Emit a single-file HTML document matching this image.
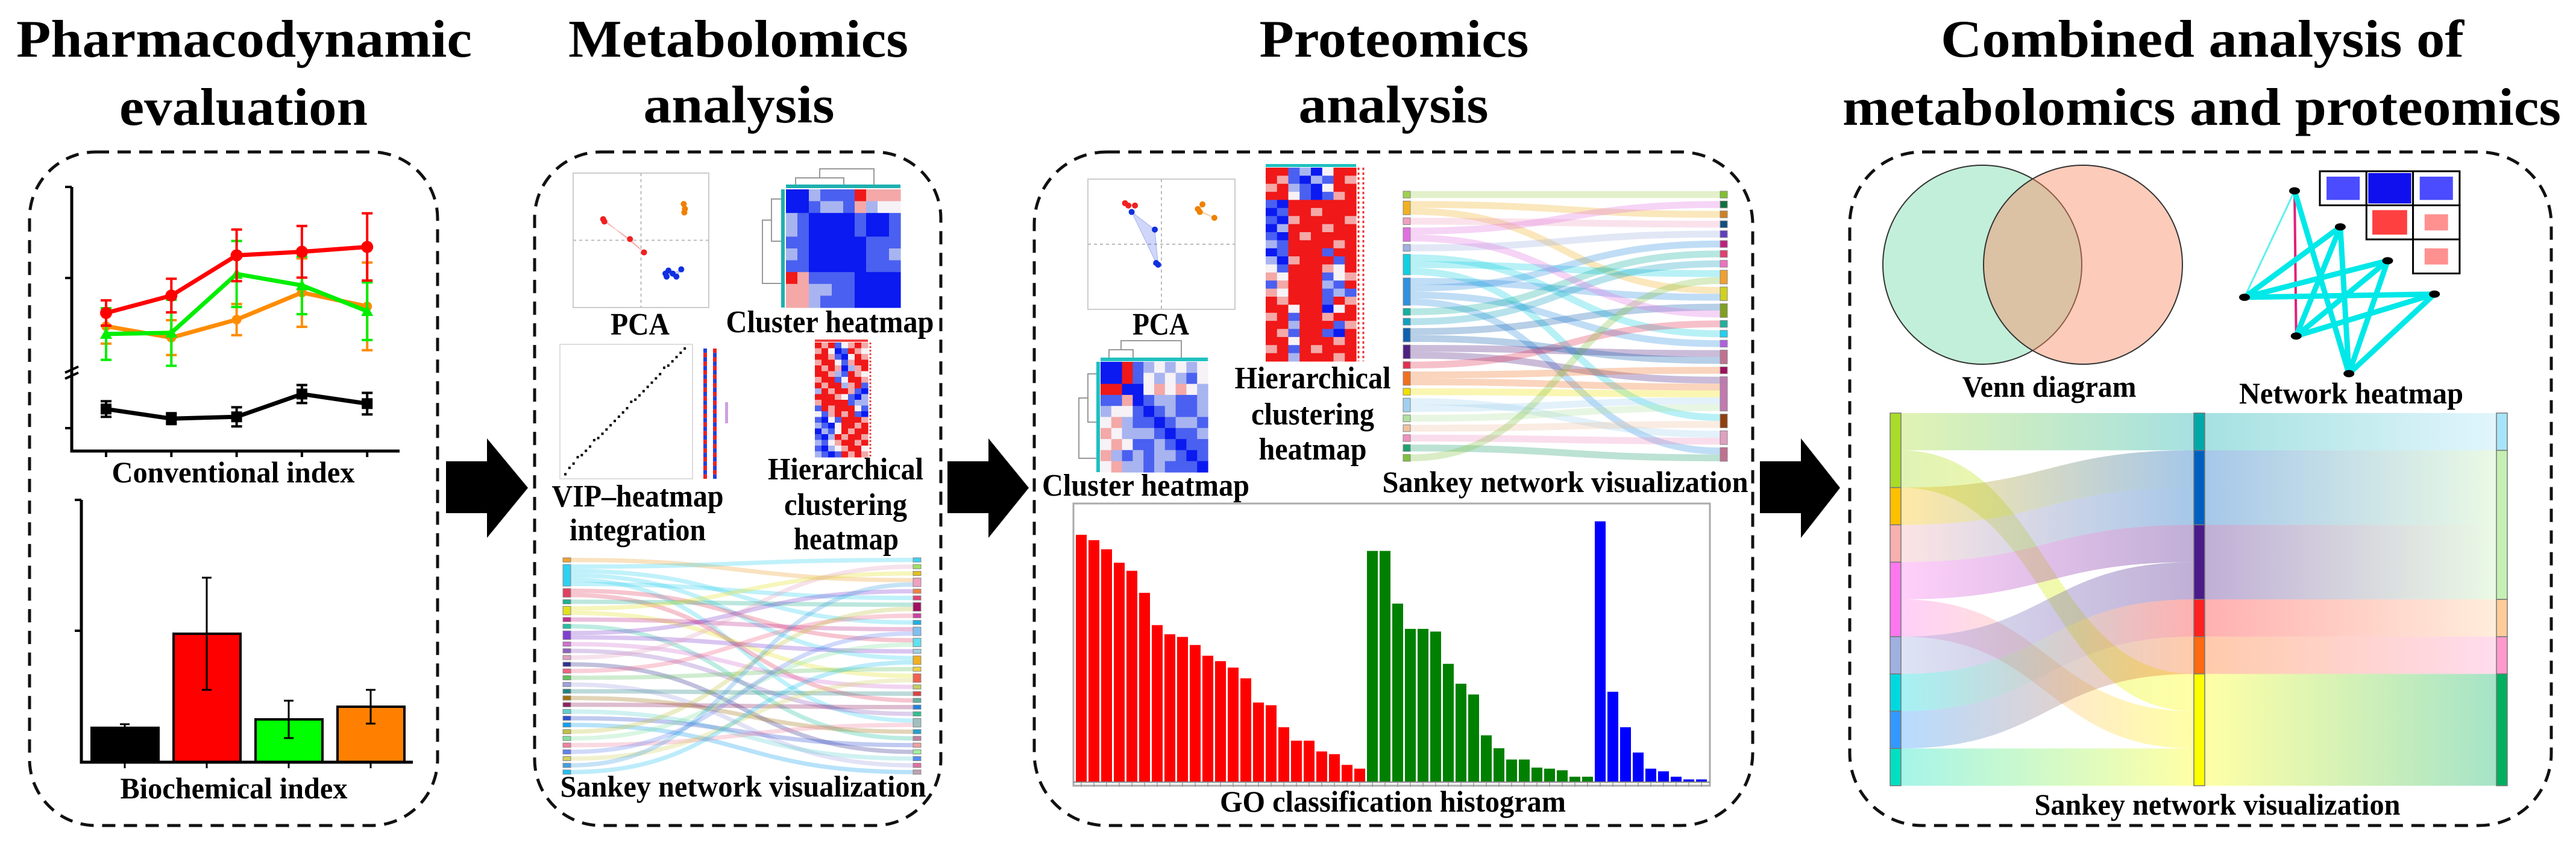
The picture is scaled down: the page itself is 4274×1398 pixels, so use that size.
<!DOCTYPE html>
<html><head><meta charset="utf-8"><title>Multi-omics workflow</title>
<style>
html,body{margin:0;padding:0;background:#fff;}
svg{display:block;}
text{font-family:"Liberation Serif",serif;font-weight:bold;fill:#000;}
</style></head>
<body>
<svg id="fig" xmlns="http://www.w3.org/2000/svg" width="4274" height="1398" viewBox="0 0 4274 1398">
<rect x="0" y="0" width="4274" height="1398" fill="#fff"/>
<!-- titles -->
<g>
<text x="405" y="94" font-size="88" text-anchor="middle" textLength="756" lengthAdjust="spacingAndGlyphs">Pharmacodynamic</text>
<text x="404" y="207" font-size="88" text-anchor="middle" textLength="412" lengthAdjust="spacingAndGlyphs">evaluation</text>
<text x="1225" y="94" font-size="88" text-anchor="middle" textLength="564" lengthAdjust="spacingAndGlyphs">Metabolomics</text>
<text x="1226" y="203" font-size="88" text-anchor="middle" textLength="317" lengthAdjust="spacingAndGlyphs">analysis</text>
<text x="2313" y="94" font-size="88" text-anchor="middle" textLength="447" lengthAdjust="spacingAndGlyphs">Proteomics</text>
<text x="2312" y="203" font-size="88" text-anchor="middle" textLength="315" lengthAdjust="spacingAndGlyphs">analysis</text>
<text x="3654" y="94" font-size="88" text-anchor="middle" textLength="868" lengthAdjust="spacingAndGlyphs">Combined analysis of</text>
<text x="3653" y="207" font-size="88" text-anchor="middle" textLength="1192" lengthAdjust="spacingAndGlyphs">metabolomics and proteomics</text>
</g>
<!-- panels -->
<g fill="none" stroke="#111" stroke-width="5" stroke-dasharray="22 14">
<rect x="49" y="252" width="677" height="1117" rx="110"/>
<rect x="887" y="252" width="674" height="1117" rx="110"/>
<rect x="1716" y="252" width="1192" height="1117" rx="120"/>
<rect x="3069" y="252" width="1164" height="1117" rx="120"/>
</g>
<!-- arrows -->
<g fill="#000">
<polygon points="740,765 808,765 808,727 876,809 808,892 808,851 740,851"/>
<polygon points="1572,765 1640,765 1640,727 1707,809 1640,892 1640,851 1572,851"/>
<polygon points="2920,765 2988,765 2988,727 3053,809 2988,892 2988,851 2920,851"/>
</g>
<!-- labels -->
<g>
<text x="387" y="800" font-size="50" text-anchor="middle" textLength="403" lengthAdjust="spacingAndGlyphs">Conventional index</text>
<text x="388" y="1324" font-size="50" text-anchor="middle" textLength="377" lengthAdjust="spacingAndGlyphs">Biochemical index</text>
<text x="1062" y="555" font-size="52" text-anchor="middle" textLength="98" lengthAdjust="spacingAndGlyphs">PCA</text>
<text x="1377" y="551" font-size="52" text-anchor="middle" textLength="345" lengthAdjust="spacingAndGlyphs">Cluster heatmap</text>
<text x="1058" y="840" font-size="52" text-anchor="middle" textLength="285" lengthAdjust="spacingAndGlyphs">VIP–heatmap</text>
<text x="1058" y="896" font-size="52" text-anchor="middle" textLength="226" lengthAdjust="spacingAndGlyphs">integration</text>
<text x="1403" y="795" font-size="52" text-anchor="middle" textLength="258" lengthAdjust="spacingAndGlyphs">Hierarchical</text>
<text x="1403" y="854" font-size="52" text-anchor="middle" textLength="204" lengthAdjust="spacingAndGlyphs">clustering</text>
<text x="1404" y="911" font-size="52" text-anchor="middle" textLength="174" lengthAdjust="spacingAndGlyphs">heatmap</text>
<text x="1233" y="1321" font-size="50" text-anchor="middle" textLength="607" lengthAdjust="spacingAndGlyphs">Sankey network visualization</text>
<text x="1926" y="555" font-size="52" text-anchor="middle" textLength="94" lengthAdjust="spacingAndGlyphs">PCA</text>
<text x="2178" y="644" font-size="52" text-anchor="middle" textLength="259" lengthAdjust="spacingAndGlyphs">Hierarchical</text>
<text x="2178" y="704" font-size="52" text-anchor="middle" textLength="204" lengthAdjust="spacingAndGlyphs">clustering</text>
<text x="2178" y="762" font-size="52" text-anchor="middle" textLength="179" lengthAdjust="spacingAndGlyphs">heatmap</text>
<text x="1901" y="822" font-size="52" text-anchor="middle" textLength="344" lengthAdjust="spacingAndGlyphs">Cluster heatmap</text>
<text x="2597" y="816" font-size="50" text-anchor="middle" textLength="607" lengthAdjust="spacingAndGlyphs">Sankey network visualization</text>
<text x="2311" y="1346" font-size="50" text-anchor="middle" textLength="574" lengthAdjust="spacingAndGlyphs">GO classification histogram</text>
<text x="3400" y="658" font-size="50" text-anchor="middle" textLength="289" lengthAdjust="spacingAndGlyphs">Venn diagram</text>
<text x="3901" y="669" font-size="50" text-anchor="middle" textLength="372" lengthAdjust="spacingAndGlyphs">Network heatmap</text>
<text x="3679" y="1351" font-size="50" text-anchor="middle" textLength="607" lengthAdjust="spacingAndGlyphs">Sankey network visualization</text>
</g>
<g id="charts"></g>
</svg>
<script>
// ===== data arrays =====
// Conventional index line chart (5 time points)
const lineCategories = [1, 2, 3, 4, 5];
const redLine = [230, 259, 326, 332, 340];
const redErr = [21, 28, 43, 43, 56];
const greenLine = [195, 197, 295, 276, 233];
const greenErr = [43, 55, 55, 48, 48];
const orangeLine = [208, 189, 219, 264, 241];
const orangeErr = [29, 29, 26, 57, 73];
const blackLine = [70, 54, 57, 95, 79];
const blackErr = [13, 9, 16, 15, 18];
// Biochemical index bar chart
const barGroups = ['control', 'model', 'treat-a', 'treat-b'];
const barValues = [57, 213, 71, 92];
const barErrors = [6, 93, 31, 28];
const barColors = ['#000000', '#ff0000', '#00ff00', '#ff8000'];
// GO classification histogram
const goRed = [460, 450, 433, 408, 393, 352, 292, 275, 270, 255, 235, 225, 213, 193, 148, 143, 102, 77, 77, 57, 52, 32, 25];
const goGreen = [430, 430, 332, 285, 285, 280, 220, 183, 163, 87, 63, 42, 42, 27, 25, 22, 10, 10];
const goBlue = [485, 168, 102, 55, 25, 20, 10, 5, 5];
// PCA (metabolomics) points
const pcaMetabX = [-0.62, -0.60, -0.18, 0.05, 0.70, 0.72, 0.71, 0.40, 0.45, 0.52, 0.58, 0.66, 0.42];
const pcaMetabY = [0.35, 0.31, 0.02, -0.20, 0.60, 0.52, 0.46, -0.55, -0.50, -0.55, -0.60, -0.48, -0.60];
const pcaMetabG = [0, 0, 0, 0, 1, 1, 1, 2, 2, 2, 2, 2, 2];
// PCA (proteomics) points
const pcaProtX = [-0.55, -0.50, -0.40, -0.45, -0.10, -0.05, -0.08, 0.55, 0.62, 0.58, 0.80];
const pcaProtY = [0.70, 0.66, 0.66, 0.55, 0.25, -0.35, -0.32, 0.60, 0.68, 0.55, 0.45];
const pcaProtG = [0, 0, 0, 2, 2, 2, 2, 1, 1, 1, 1];
// VIP ranks
const vipValues = [0.5, 2, 3, 4.5, 5, 6, 7, 8.5, 9, 10, 11, 12, 13, 14, 15, 16, 17.5, 18, 19, 20, 21, 22, 23, 24, 25.5, 26, 27, 28, 29, 30];
// heatmap matrices
const clusterMetab = ["BBlbbbRppp","BBbllbplww","lbBBBBbBBb","lbBBBBbBBb","bbBBBBBbbb","lbBBBBBbbl","bbBBBBBbbb","RpbbbbBBBB","ppllbbBBBB","pplbbbBBBB"];
const clusterProt = ["BBRblwlwlw","BBRbwlwlbw","RRBBwpwpwl","bbpBbllbbl","lwwbBblbbl","wplbbBbllb","pwlllbBbbl","wpwbblbBbb","plblbllbBb","wpllblbbbB"];
const hierMetab = ["RpRbwpRp","pRwBbRpw","RRpbBwRp","pRRwbpRR","RpRpBlpR","RRplbRpw","pRRbwRRp","RpRRlpRb","lRpRRpbB","RRRpwbBl","pRRRRbll","bRpRRRwb","wbpRpRbB","bBwbRRRp","lbBwRRpR","BlbwRpRR","bBlRpRRp","lbwpRRpR","bBlwpRRw","lbBbRpRp"];
const hierProt = ["RRblBwRR","RpbBlbRp","pRlbBwRR","RRwbBbpR","bBRRRRRR","BbRRpRRR","bBpRRRRp","BlRRRpRR","bBRpRRRR","lbRRRRpR","BbRRRbRR","lBpRRRbR","wbRRRpwR","pwRRRbwp","bpRRRlbR","pwRRRblb","RpRRRbRp","RRwRRBwR","pRbRRpRR","RRlRRRbp","RpbRRbBR","RRwRRRpR","pRbRpRRR","RRlRRRpR"];
// metabolomics sankey
const metabLeftColors = ['#f0a030','#30d0f0','#e04060','#20b090','#e0e020','#c03090','#20c0a0','#8040d0','#d070d0','#9060c0','#e0a0c0','#303090','#f06080','#60c060','#a0a0e0','#208080','#a07010','#902060','#60d0d0','#3050d0','#10a0f0','#c0c040','#80e0a0','#f080a0','#6080f0','#d0d060','#40a0e0','#20c0f0'];
const metabRightColors = ['#40d0f0','#a0e060','#e0c020','#f0a0c0','#f08040','#e04070','#a01060','#d040a0','#20b0e0','#80c0f0','#60e0f0','#a0d0e0','#f0b020','#f0d040','#f06050','#c0d060','#e04040','#60b0a0','#2080e0','#30c090','#a0c0c0','#20a0d0','#c080a0','#f0a0a0','#a0f0a0','#5090f0','#e070a0','#c0a0b0'];
const metabLinks = [[0,3],[1,0],[1,8],[1,12],[1,20],[1,5],[2,10],[2,17],[3,6],[4,2],[4,14],[5,9],[6,22],[7,4],[7,11],[8,15],[9,19],[10,1],[11,24],[12,7],[13,13],[14,26],[15,16],[16,21],[17,18],[18,25],[19,23],[20,27],[21,6],[22,10],[23,20],[24,9],[25,14],[26,3],[27,12]];
// proteomics sankey
const protLeftColors = ['#a0d050','#f0b020','#f0a0c0','#e070e0','#a0b0e0','#10d0e0','#3090e0','#10b0a0','#10a0c0','#1060b0','#502080','#e03050','#f07020','#f0e000','#a0d0f0','#b0e0a0','#f0c0a0','#f090c0','#20a070','#80c040'];
const protRightColors = ['#80c030','#107040','#d08020','#105080','#6040c0','#c02080','#e04070','#f070c0','#f0a030','#d0d020','#80a020','#20b0a0','#20d0f0','#b060e0','#c07090','#a01060','#c07ab0','#904010','#e0a0c0','#c07090'];
const protLinks = [[0,0],[1,2],[1,9],[2,3],[3,1],[4,4],[5,12],[5,8],[5,17],[6,9],[6,5],[6,13],[6,19],[7,6],[8,7],[9,10],[10,14],[10,16],[11,11],[12,15],[12,16],[13,16],[14,18],[14,16],[15,16],[16,17],[17,18],[18,19],[19,8],[3,10],[9,14]];
// combined sankey
const combLeftColors = ['#a8dc28','#ffc000','#f8b0b0','#ff77ee','#a0b0e0','#00d8e0','#3399ff','#00e0c0'];
const combMidColors = ['#00a8a8','#0060c0','#4b1a8a','#ff2020','#ff6a10','#ffff00'];
const combRightColors = ['#a8e4f8','#c4f0b4','#ffcc99','#ff99cc','#00b060'];
const combLinksA = [[0,0,1],[0,5,1],[1,1,1],[2,1,1],[3,2,1],[3,5,1],[4,2,1],[5,3,1],[6,4,1],[7,5,1]];
const combLinksB = [[0,0,1],[1,1,2],[2,1,2],[3,2,1],[4,3,1],[5,4,3]];
// network heatmap
const netNodesX = [1045, 1130, 1218, 952, 1305, 1048, 1146];
const netNodesY = [355, 422, 485, 553, 547, 625, 695];
const netEdges = [[0,3,'#60f0f0',3],[0,5,'#e0207a',4],[0,6,'#00e8e8',9],[3,1,'#00e8e8',9],[3,2,'#00e8e8',9],[3,4,'#00e8e8',9],[1,5,'#00e8e8',9],[1,6,'#00e8e8',9],[2,5,'#00e8e8',9],[2,6,'#00e8e8',9],[4,5,'#00e8e8',9],[4,6,'#00e8e8',9]];
const netCellRow = [0, 0, 0, 1, 1, 2];
const netCellCol = [0, 1, 2, 1, 2, 2];
const netCellVal = [-0.7, -1.0, -0.7, 0.75, 0.4, 0.4];

// ===== helpers =====
const NS = 'http://www.w3.org/2000/svg';
const root = document.getElementById('charts');
function mk(tag, attrs, parent) {
  const e = document.createElementNS(NS, tag);
  for (const k in attrs) e.setAttribute(k, attrs[k]);
  (parent || root).appendChild(e);
  return e;
}
function grp(name) {
  const g = mk('g', {});
  
  
  return g;
}
const heatColors = {B:'#0a1af0', b:'#4a60f0', l:'#a8b4f0', w:'#f6f2f6', p:'#f4a8a8', R:'#f01818'};
function heatmap(g, rows, x0, y0, w, h, name) {
  const nr = rows.length, nc = rows[0].length;
  const cw = w / nc, ch = h / nr;
  for (let r = 0; r < nr; r++) for (let c = 0; c < nc; c++) {
    const cell = mk('rect', {x: x0 + c*cw, y: y0 + r*ch, width: cw + 0.6, height: ch + 0.6, fill: heatColors[rows[r][c]]}, g);
    
    
  }
}

// ===== line chart =====
(function(){
  const g = grp('conventional-index-chart');
  const xLine = i => 176 + (i) * 108.3;
  const yLine = v => 748 - v * 438 / 440;
  const ax = mk('path', {d:'M119 310 V748 H663', stroke:'#000', 'stroke-width':5, fill:'none'}, g);
  
  
  [310, 461, 710].forEach(y => {
    const t = mk('line', {x1:108, x2:119, y1:y, y2:y, stroke:'#000', 'stroke-width':4}, g);
    
    
  });
  lineCategories.forEach((c, i) => {
    const t = mk('line', {x1:xLine(i), x2:xLine(i), y1:748, y2:758, stroke:'#000', 'stroke-width':4}, g);
    
    
  });
  const br = mk('path', {d:'M108 618 L130 608 M108 628 L130 618', stroke:'#000', 'stroke-width':4, fill:'none'}, g);
  
  
  const series = [[blackLine, blackErr, '#000', 'black'], [orangeLine, orangeErr, '#ff8c00', 'orange'], [greenLine, greenErr, '#00ee00', 'green'], [redLine, redErr, '#ff0000', 'red']];
  series.forEach(([vals, errs, col, nm]) => {
    vals.forEach((v, i) => {
      const e = mk('path', {d:`M${xLine(i)} ${yLine(v+errs[i])} V${yLine(v-errs[i])} M${xLine(i)-9} ${yLine(v+errs[i])} h18 M${xLine(i)-9} ${yLine(v-errs[i])} h18`, stroke:col, 'stroke-width':4, fill:'none'}, g);
      
      
    });
    const pl = mk('polyline', {points: vals.map((v,i)=>xLine(i)+','+yLine(v)).join(' '), stroke:col, 'stroke-width':7, fill:'none'}, g);
    
    
    vals.forEach((v, i) => {
      let m;
      if (nm === 'red') m = mk('circle', {cx:xLine(i), cy:yLine(v), r:10, fill:col}, g);
      else if (nm === 'black') m = mk('rect', {x:xLine(i)-9, y:yLine(v)-9, width:18, height:18, fill:col}, g);
      else if (nm === 'green') m = mk('polygon', {points:`${xLine(i)},${yLine(v)-10} ${xLine(i)+10},${yLine(v)+8} ${xLine(i)-10},${yLine(v)+8}`, fill:col}, g);
      else m = mk('circle', {cx:xLine(i), cy:yLine(v), r:8, fill:col}, g);
      
      
    });
  });
})();

// ===== bar chart =====
(function(){
  const g = grp('biochemical-index-chart');
  const xBar = i => 152 + i * 136;
  const yBar = v => 1264 - v * 435 / 435;
  barGroups.forEach((b, i) => {
    const r = mk('rect', {x:xBar(i), y:yBar(barValues[i]), width:111, height:1264 - yBar(barValues[i]), fill:barColors[i], stroke:'#000', 'stroke-width':4}, g);
    
    
    const cx = xBar(i) + 55;
    const e = mk('path', {d:`M${cx} ${yBar(barValues[i]+barErrors[i])} V${yBar(barValues[i]-barErrors[i])} M${cx-8} ${yBar(barValues[i]+barErrors[i])} h16 M${cx-8} ${yBar(barValues[i]-barErrors[i])} h16`, stroke:'#000', 'stroke-width':3, fill:'none'}, g);
    
    
    const t = mk('line', {x1:cx, x2:cx, y1:1264, y2:1274, stroke:'#000', 'stroke-width':3}, g);
    
    
  });
  const ax = mk('path', {d:'M135 829 V1264 H685', stroke:'#000', 'stroke-width':5, fill:'none'}, g);
  
  
  [829, 1046].forEach(y => {
    const t = mk('line', {x1:124, x2:135, y1:y, y2:y, stroke:'#000', 'stroke-width':4}, g);
    
    
  });
})();

// ===== PCA plots =====
function pca(name, xs, ys, gs, x0, y0, w, h, colors) {
  const g = grp(name);
  const bx = mk('rect', {x:x0, y:y0, width:w, height:h, fill:'#fff', stroke:'#ccc', 'stroke-width':2}, g);
  
  
  const sx = v => x0 + w/2 + v * w/2 * 0.9;
  const sy = v => y0 + h/2 - v * h/2 * 0.9;
  const gr = mk('path', {d:`M${x0+w/2} ${y0} V${y0+h} M${x0} ${y0+h/2} H${x0+w}`, stroke:'#bbb', 'stroke-width':2, 'stroke-dasharray':'5 5', fill:'none'}, g);
  
  
  [0,1,2].forEach(k => {
    const pts = xs.map((x,i)=>[x,ys[i],gs[i]]).filter(p=>p[2]===k);
    if (pts.length > 2) {
      const hull = mk('polygon', {points: pts.map(p=>sx(p[0])+','+sy(p[1])).join(' '), fill:colors[k], 'fill-opacity':0.2, stroke:colors[k], 'stroke-opacity':0.3}, g);
      
      
    }
  });
  xs.forEach((x, i) => {
    const c = mk('circle', {cx:sx(x), cy:sy(ys[i]), r:5, fill:colors[gs[i]]}, g);
    
    
  });
}
pca('pca-metabolomics', pcaMetabX, pcaMetabY, pcaMetabG, 951, 287, 225, 223, ['#f02020','#f08000','#1030e0']);
pca('pca-proteomics', pcaProtX, pcaProtY, pcaProtG, 1805, 297, 244, 216, ['#f02020','#f08000','#1030e0']);

// ===== heatmaps =====
(function(){
  const g = grp('cluster-heatmap-metabolomics');
  heatmap(g, clusterMetab, 1304, 314, 190, 196, 'cluster-metab');
  const d = mk('path', {d:'M1320 312 V295 H1400 V312 M1360 295 V280 H1450 V312 M1300 330 H1280 V400 H1300 M1280 365 H1265 V470 H1300', stroke:'#999', 'stroke-width':2, fill:'none'}, g);
  
  
  const s = mk('rect', {x:1296, y:314, width:6, height:196, fill:'#20b0b0'}, g);
  
  
  const s2 = mk('rect', {x:1304, y:306, width:190, height:6, fill:'#20b0b0'}, g);
  
  
})();
(function(){
  const g = grp('cluster-heatmap-proteomics');
  heatmap(g, clusterProt, 1826, 600, 178, 183, 'cluster-prot');
  const d = mk('path', {d:'M1840 598 V580 H1880 V598 M1860 580 V565 H1960 V598 M1822 620 H1805 V700 H1822 M1805 660 H1790 V760 H1822', stroke:'#999', 'stroke-width':2, fill:'none'}, g);
  
  
  const s = mk('rect', {x:1819, y:600, width:6, height:183, fill:'#20c0c0'}, g);
  
  
  const s2 = mk('rect', {x:1826, y:593, width:178, height:6, fill:'#20c0c0'}, g);
  
  
})();
(function(){
  const g = grp('hierarchical-heatmap-metabolomics');
  heatmap(g, hierMetab, 1352, 568, 88, 190, 'hier-metab');
  const s = mk('rect', {x:1352, y:563, width:88, height:4, fill:'#f04040'}, g);
  
  
  const l = mk('line', {x1:1444, x2:1444, y1:568, y2:758, stroke:'#f04040', 'stroke-width':3, 'stroke-dasharray':'3 3'}, g);
  
  
})();
(function(){
  const g = grp('hierarchical-heatmap-proteomics');
  heatmap(g, hierProt, 2100, 278, 150, 321, 'hier-prot');
  const s = mk('rect', {x:2100, y:272, width:150, height:5, fill:'#20c0c0'}, g);
  
  
  const l = mk('path', {d:'M2254 278 V599 M2262 278 V599', stroke:'#f03030', 'stroke-width':3, 'stroke-dasharray':'4 4', fill:'none'}, g);
  
  
})();

// ===== VIP plot =====
(function(){
  const g = grp('vip-heatmap-integration');
  const b = mk('rect', {x:929, y:571, width:220, height:223, fill:'#fff', stroke:'#ddd', 'stroke-width':2}, g);
  
  
  const sx = i => 938 + i * 205 / vipValues.length;
  const sy = v => 790 - v * 212 / 30;
  vipValues.forEach((v, i) => {
    const p = mk('rect', {x:sx(i)-2, y:sy(v)-2, width:4, height:4, fill:'#000'}, g);
    
    
  });
  for (let k = 0; k < 30; k++) {
    const c1 = mk('rect', {x:1167, y:578 + k*7.2, width:6, height:7.2, fill: k%2 ? '#f02020' : '#2040e0'}, g);
    
    
    const c2 = mk('rect', {x:1183, y:578 + k*7.2, width:6, height:7.2, fill: k%2 ? '#2040e0' : '#f02020'}, g);
    
    
  }
  const lg = mk('rect', {x:1203, y:667, width:5, height:35, fill:'#d0a0e0'}, g);
  
  
})();

// ===== small sankeys =====
function sankey(name, leftColors, rightColors, links, x0, x1, y0, y1, nw, gap) {
  const g = grp(name);
  const lc = leftColors.map(()=>0), rc = rightColors.map(()=>0);
  links.forEach(([s,t]) => { lc[s]++; rc[t]++; });
  const unitL = (y1 - y0 - gap*(leftColors.length-1)) / links.length;
  const unitR = (y1 - y0 - gap*(rightColors.length-1)) / links.length;
  const ly = [], ry = [];
  let y = y0; lc.forEach((c,i)=>{ ly.push(y); y += c*unitL + gap; });
  y = y0; rc.forEach((c,i)=>{ ry.push(y); y += c*unitR + gap; });
  const lo = lc.map(()=>0), ro = rc.map(()=>0);
  links.forEach(([s,t]) => {
    const ya = ly[s] + lo[s]*unitL + unitL/2; lo[s]++;
    const yb = ry[t] + ro[t]*unitR + unitR/2; ro[t]++;
    const xa = x0 + nw, xb = x1 - nw, xm = (xa + xb)/2;
    const p = mk('path', {d:`M${xa} ${ya} C${xm} ${ya} ${xm} ${yb} ${xb} ${yb}`, stroke:leftColors[s], 'stroke-opacity':0.3, 'stroke-width':Math.min(unitL,unitR), fill:'none'}, g);
    
    
  });
  lc.forEach((c,i) => {
    const r = mk('rect', {x:x0, y:ly[i], width:nw, height:c*unitL, fill:leftColors[i], stroke:'#888', 'stroke-width':1}, g);
    
    
  });
  rc.forEach((c,i) => {
    const r = mk('rect', {x:x1-nw, y:ry[i], width:nw, height:c*unitR, fill:rightColors[i], stroke:'#888', 'stroke-width':1}, g);
    
    
  });
}
sankey('sankey-metabolomics', metabLeftColors, metabRightColors, metabLinks, 934, 1528, 925, 1284, 13, 4);
sankey('sankey-proteomics', protLeftColors, protRightColors, protLinks, 2328, 2866, 317, 765, 12, 5);

// ===== GO histogram =====
(function(){
  const g = grp('go-histogram');
  const fr = mk('rect', {x:1781, y:835, width:1056, height:468, fill:'#fff', stroke:'#aaa', 'stroke-width':3}, g);
  
  
  const xGo = i => 1785 + i * 21;
  const yGo = v => 1297 - v * 0.8916;
  const all = [[goRed,'#ff0000','red'],[goGreen,'#008000','green'],[goBlue,'#0000ff','blue']];
  let idx = 0;
  all.forEach(([vals, col, nm]) => {
    vals.forEach(v => {
      const b = mk('rect', {x:xGo(idx), y:yGo(v), width:18, height:1297 - yGo(v), fill:col}, g);
      
      
      const t = mk('line', {x1:xGo(idx)+9, x2:xGo(idx)+9, y1:1297, y2:1305, stroke:'#999', 'stroke-width':1.5}, g);
      
      
      idx++;
    });
  });
  const ax = mk('line', {x1:1781, x2:2837, y1:1297, y2:1297, stroke:'#888', 'stroke-width':2}, g);
  
  
})();

// ===== Venn =====
(function(){
  const g = grp('venn-diagram');
  const a = mk('circle', {cx:3289, cy:439, r:165, fill:'rgb(120,220,170)', 'fill-opacity':0.45, stroke:'#333', 'stroke-width':2}, g);
  
  
  const b = mk('circle', {cx:3456, cy:439, r:165, fill:'rgb(250,140,100)', 'fill-opacity':0.45, stroke:'#333', 'stroke-width':2}, g);
  
  
})();

// ===== Network heatmap =====
(function(){
  const g = grp('network-heatmap');
  const cx = c => 3849 + c * 77.3;
  const cy = r => 284 + r * 56.5;
  netCellVal.forEach((v, i) => {
    const o = mk('rect', {x:cx(netCellCol[i]), y:cy(netCellRow[i]), width:77.3, height:56.5, fill:'#fff', stroke:'#000', 'stroke-width':3}, g);
    
    
    const s = Math.abs(v);
    const w = 77.3 * (0.3 + 0.7*s) - 6, h = 56.5 * (0.3 + 0.7*s) - 6;
    const col = v < 0 ? (s > 0.9 ? '#1010ee' : '#4b4bff') : (s > 0.6 ? '#ff4040' : '#ff9090');
    const r = mk('rect', {x:cx(netCellCol[i]) + (77.3-w)/2, y:cy(netCellRow[i]) + (56.5-h)/2, width:w, height:h, fill:col}, g);
    
    
  });
  const nx = x => 2874 + x / 1.12;
  const ny = y => y * 0.8916;
  netEdges.forEach(([a, b, col, w]) => {
    const l = mk('line', {x1:nx(netNodesX[a]), y1:ny(netNodesY[a]), x2:nx(netNodesX[b]), y2:ny(netNodesY[b]), stroke:col, 'stroke-width':w}, g);
    
    
  });
  netNodesX.forEach((x, i) => {
    const c = mk('ellipse', {cx:nx(x), cy:ny(netNodesY[i]), rx:9, ry:6, fill:'#000'}, g);
    
    
  });
})();

// ===== combined sankey =====
(function(){
  const g = grp('sankey-combined');
  const defs = mk('defs', {}, g);
  const yTop = 685, unit = 61.8, nw = 18;
  const xL = 3136, xM = 3640, xR = 4142;
  function stack(n, links, idx) {
    const c = new Array(n).fill(0);
    links.forEach(l => c[l[idx]] += l[2]);
    const pos = []; let y = yTop;
    c.forEach(v => { pos.push(y); y += v*unit; });
    return [c, pos];
  }
  const [lc, lp] = stack(combLeftColors.length, combLinksA, 0);
  const [mc, mp] = stack(combMidColors.length, combLinksA, 1);
  const [rc, rp] = stack(combRightColors.length, combLinksB, 1);
  let gid = 0;
  function draw(links, sPos, tPos, sCols, tCols, xa, xb) {
    const so = sPos.map(()=>0), to = tPos.map(()=>0);
    links.forEach(([s,t,w]) => {
      const h = w*unit;
      const ya = sPos[s] + so[s]; so[s] += h;
      const yb = tPos[t] + to[t]; to[t] += h;
      const xm = (xa + xb)/2;
      const id = 'cg' + (gid++);
      const lg = mk('linearGradient', {id:id, gradientUnits:'userSpaceOnUse', x1:xa, x2:xb, y1:0, y2:0}, defs);
      mk('stop', {offset:0, 'stop-color':sCols[s], 'stop-opacity':0.35}, lg);
      mk('stop', {offset:1, 'stop-color':tCols[t], 'stop-opacity':0.35}, lg);
      const p = mk('path', {d:`M${xa} ${ya} C${xm} ${ya} ${xm} ${yb} ${xb} ${yb} V${yb+h} C${xm} ${yb+h} ${xm} ${ya+h} ${xa} ${ya+h} Z`, fill:`url(#${id})`}, g);
      
      
    });
  }
  draw(combLinksA, lp, mp, combLeftColors, combMidColors, xL + nw, xM);
  const mp2 = []; { let y = yTop; combMidColors.forEach((c,i)=>{ mp2.push(y); y += mc[i]*unit; }); }
  draw(combLinksB, mp2, rp, combMidColors, combRightColors, xM + nw, xR);
  [[lc, lp, combLeftColors, xL, 'left'], [mc, mp, combMidColors, xM, 'middle'], [rc, rp, combRightColors, xR, 'right']].forEach(([c, p, cols, x, nm]) => {
    c.forEach((v, i) => {
      const r = mk('rect', {x:x, y:p[i], width:nw, height:v*unit, fill:cols[i], stroke:'#777', 'stroke-width':1.5}, g);
      
      
    });
  });
})();
</script>
</body></html>
